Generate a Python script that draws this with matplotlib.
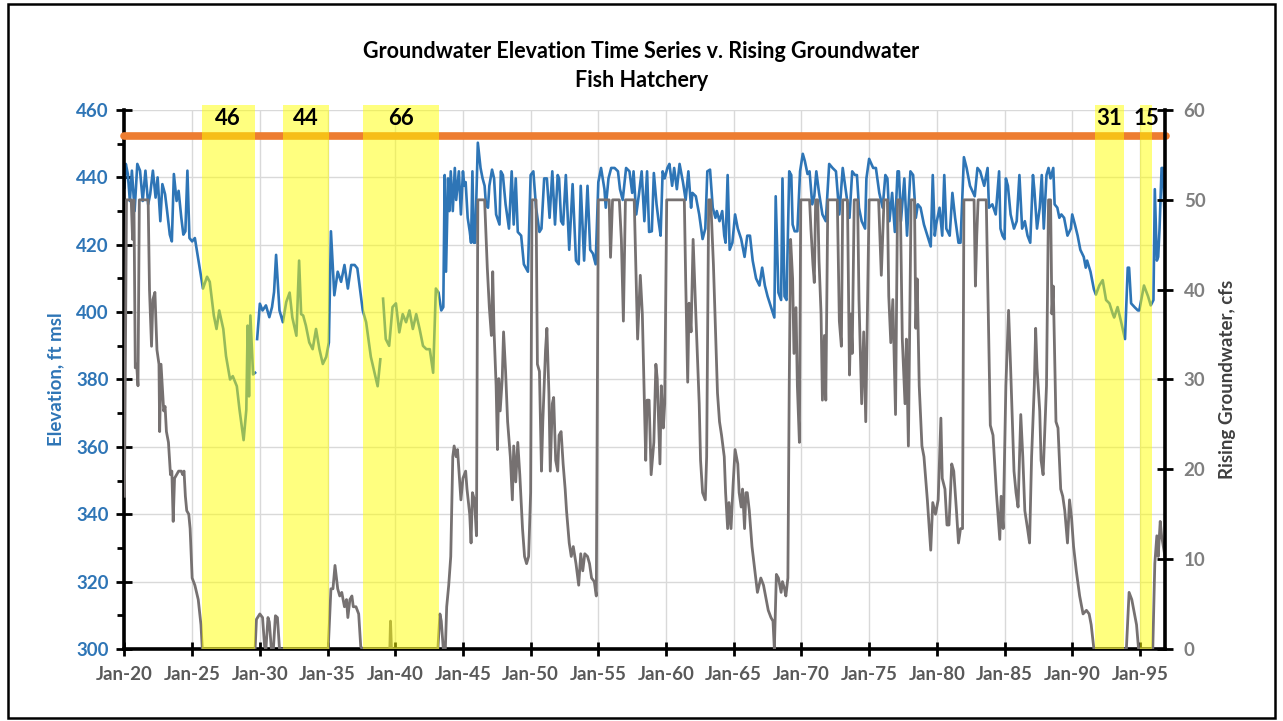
import numpy as np
import matplotlib
matplotlib.use('Agg')
import matplotlib.pyplot as plt
from matplotlib.patches import Rectangle
from matplotlib.ticker import MultipleLocator, FixedLocator

plt.rcParams['font.family'] = ['Lato', 'DejaVu Sans']

# ─── DATA (decimal years) ───────────────────────────────────────────────
NAN = float('nan')

# groundwater elevation, ft msl (NaN = gap in record)
elev_points = [
    (1920.0, 437), (1920.1, 444), (1920.25, 441), (1920.4, 433), (1920.55, 442),
    (1920.75, 430), (1920.95, 444), (1921.15, 442), (1921.35, 433), (1921.55, 442),
    (1921.75, 432), (1921.9, 435), (1922.1, 442), (1922.3, 434), (1922.45, 440),
    (1922.65, 427), (1922.8, 438), (1923.0, 435), (1923.15, 430), (1923.35, 423),
    (1923.5, 421), (1923.65, 441), (1923.85, 433), (1924.0, 436), (1924.2, 428),
    (1924.35, 423), (1924.5, 424), (1924.65, 442), (1924.8, 422), (1925.0, 421),
    (1925.2, 422), (1925.4, 417), (1925.6, 412), (1925.8, 407), (1926.1, 410.5),
    (1926.3, 409), (1926.6, 399), (1926.8, 395), (1927.0, 400.5), (1927.3, 395),
    (1927.5, 387), (1927.8, 380), (1928.0, 381), (1928.3, 378), (1928.5, 371),
    (1928.8, 362), (1929.0, 371), (1929.1, 396), (1929.2, 375), (1929.3, 399),
    (1929.5, 381.5), (1929.65, 382), (1929.72, NAN),
    (1929.8, 392), (1930.0, 402.5), (1930.2, 400.5), (1930.45, 402), (1930.7, 398.5),
    (1930.9, 401.5), (1931.05, 406), (1931.2, 417), (1931.45, 400.5), (1931.7, 397),
    (1931.95, 403), (1932.2, 405.8), (1932.4, 398.4), (1932.7, 393), (1932.9, 415.3),
    (1933.05, 399.4), (1933.2, 399), (1933.4, 396), (1933.65, 391), (1933.9, 389),
    (1934.15, 395), (1934.4, 389), (1934.65, 384.6), (1934.9, 386.7), (1935.1, 391),
    (1935.25, 424), (1935.5, 405), (1935.75, 412), (1936.0, 409), (1936.25, 414),
    (1936.5, 407), (1936.75, 414), (1937.0, 414), (1937.2, 413), (1937.6, 400.5),
    (1937.85, 397), (1938.2, 386.7), (1938.7, 378), (1938.9, 386), (1939.0, NAN),
    (1939.1, 404), (1939.3, 392), (1939.55, 390), (1939.8, 401.5), (1940.05, 402.6),
    (1940.3, 394), (1940.55, 399.4), (1940.8, 397), (1941.05, 400.5), (1941.3, 395),
    (1941.55, 399.4), (1941.8, 395), (1942.05, 390), (1942.3, 389), (1942.55, 389),
    (1942.8, 382), (1943.0, 407), (1943.2, 405.8), (1943.4, 400.5), (1943.55, 401.5),
    (1943.65, 440.7), (1943.75, 412), (1943.9, 439.7), (1944.0, 430), (1944.1, 441.8),
    (1944.25, 430), (1944.4, 442.8), (1944.5, 433.3), (1944.7, 441.8), (1944.85, 429),
    (1945.0, 441.8), (1945.1, 437.5), (1945.2, 438.6), (1945.35, 428), (1945.5, 424),
    (1945.6, 420.6), (1945.7, 441.8), (1945.8, 420.6), (1945.9, 420.6), (1946.1, 450.3),
    (1946.3, 442.8), (1946.45, 439.7), (1946.6, 437.5), (1946.7, 432), (1946.85, 431),
    (1946.95, 437.5), (1947.15, 442.3), (1947.3, 439.7), (1947.45, 429), (1947.7, 426),
    (1947.8, 441.8), (1947.95, 440.7), (1948.15, 432), (1948.4, 424.8), (1948.6, 441.8),
    (1948.75, 426), (1948.9, 439.7), (1949.05, 423.8), (1949.3, 422.7), (1949.5, 414.2),
    (1949.8, 412), (1950.0, 440.7), (1950.2, 441.8), (1950.4, 431), (1950.65, 423.8),
    (1950.8, 424.8), (1951.0, 439.7), (1951.2, 439.7), (1951.4, 428), (1951.6, 441.8),
    (1951.8, 426), (1952.0, 440.7), (1952.1, 439.7), (1952.25, 427), (1952.4, 426),
    (1952.6, 440.7), (1952.85, 418.5), (1953.1, 438), (1953.35, 415.3), (1953.55, 414.2),
    (1953.7, 437.5), (1953.95, 415.3), (1954.2, 437.5), (1954.4, 418.5), (1954.6, 417.4),
    (1954.8, 414.2), (1955.0, 438.6), (1955.2, 442.8), (1955.45, 436.5), (1955.55, 431),
    (1955.75, 439.7), (1955.95, 442.8), (1956.2, 442.8), (1956.45, 441.8), (1956.6, 436.5),
    (1956.8, 433.3), (1957.05, 442.8), (1957.3, 441.8), (1957.5, 435.4), (1957.6, 441.8),
    (1957.8, 429), (1958.0, 435), (1958.2, 441.8), (1958.4, 427), (1958.6, 441.8),
    (1958.75, 423.8), (1958.95, 424), (1959.1, 441.3), (1959.3, 432), (1959.45, 427),
    (1959.6, 422.7), (1959.75, 441.8), (1959.9, 439.7), (1960.1, 442.8), (1960.25, 444),
    (1960.45, 437.5), (1960.6, 442.8), (1960.8, 436.5), (1961.0, 444), (1961.25, 438.6),
    (1961.45, 433.3), (1961.65, 441.8), (1961.85, 431), (1961.95, 435.4), (1962.2, 434.4),
    (1962.45, 429), (1962.7, 421.7), (1962.9, 424.8), (1963.05, 441.8), (1963.25, 442.3),
    (1963.45, 431), (1963.65, 428), (1963.75, 430), (1963.95, 427), (1964.15, 430),
    (1964.3, 422.7), (1964.4, 420.6), (1964.55, 440.7), (1964.7, 418.5), (1964.9, 420.6),
    (1965.1, 429), (1965.3, 424.8), (1965.55, 421.7), (1965.8, 416.4), (1966.0, 422.7),
    (1966.2, 422.7), (1966.4, 415.3), (1966.65, 410), (1966.9, 407.9), (1967.1, 413.2),
    (1967.3, 407.9), (1967.5, 404.7), (1967.75, 401.5), (1968.0, 398.4), (1968.1, 434.4),
    (1968.3, 405.8), (1968.5, 403.6), (1968.6, 439.7), (1968.75, 404.7), (1968.9, 403.6),
    (1969.1, 441.8), (1969.25, 440.7), (1969.35, 426), (1969.5, 424), (1969.7, 424),
    (1969.9, 441.8), (1970.1, 447), (1970.25, 444.9), (1970.45, 441), (1970.6, 441.8),
    (1970.8, 432), (1970.95, 434.4), (1971.1, 441.8), (1971.3, 435.4), (1971.55, 429),
    (1971.8, 427), (1972.05, 444), (1972.3, 442.8), (1972.55, 441.8), (1972.8, 429),
    (1973.05, 442.8), (1973.3, 435.4), (1973.55, 428), (1973.75, 441.8), (1973.95, 440.7),
    (1974.1, 440.7), (1974.25, 431), (1974.45, 427), (1974.7, 424.8), (1974.8, 439.7),
    (1975.0, 445.5), (1975.3, 442.8), (1975.5, 442.8), (1975.75, 435.4), (1976.0, 431),
    (1976.2, 440.7), (1976.35, 439.7), (1976.5, 427), (1976.7, 435.4), (1976.9, 423.8),
    (1977.1, 441.8), (1977.2, 441.8), (1977.35, 427), (1977.6, 439.7), (1977.8, 422.7),
    (1978.05, 441.8), (1978.25, 440.7), (1978.45, 428), (1978.6, 432), (1978.8, 431),
    (1979.05, 426), (1979.3, 422.7), (1979.55, 419.5), (1979.7, 440.7), (1979.85, 422.7),
    (1979.95, 426), (1980.2, 431), (1980.4, 422.7), (1980.55, 440.7), (1980.7, 424.8),
    (1980.95, 422.7), (1981.15, 435.4), (1981.35, 428), (1981.6, 420.6), (1981.75, 420.6),
    (1982.0, 446), (1982.2, 442.8), (1982.45, 437.5), (1982.8, 434.4), (1983.0, 442.8),
    (1983.2, 441.8), (1983.5, 437.5), (1983.75, 442.8), (1983.85, 431), (1984.1, 432),
    (1984.35, 429), (1984.6, 441.8), (1984.7, 424.8), (1984.85, 422.7), (1985.0, 421.7),
    (1985.1, 439.7), (1985.25, 437.5), (1985.45, 429), (1985.7, 424.8), (1985.9, 427),
    (1986.1, 440.7), (1986.3, 424.8), (1986.5, 427), (1986.7, 422.7), (1986.9, 420.6),
    (1987.1, 440.7), (1987.2, 436.5), (1987.4, 424.8), (1987.6, 431), (1987.75, 440.7),
    (1987.9, 424.8), (1988.1, 440.7), (1988.25, 442.8), (1988.4, 439.7), (1988.6, 442.8),
    (1988.7, 432), (1988.9, 431), (1989.05, 428), (1989.2, 429), (1989.4, 428),
    (1989.65, 422.7), (1989.9, 424.8), (1990.0, 429), (1990.2, 426), (1990.4, 422.7),
    (1990.6, 418.5), (1990.85, 416.4), (1991.0, 413.2), (1991.1, 415.3), (1991.35, 412),
    (1991.6, 406.8), (1991.75, 405.2), (1992.0, 407.9), (1992.25, 409.5), (1992.5, 403.6),
    (1992.75, 402.6), (1993.0, 399.4), (1993.1, 398.4), (1993.35, 401.5), (1993.6, 397.3),
    (1993.9, 392), (1994.1, 413.2), (1994.2, 413.2), (1994.35, 402.6), (1994.6, 401.5),
    (1994.85, 400.5), (1994.95, 400.5), (1995.1, 403.6), (1995.3, 407.9), (1995.6, 404.7),
    (1995.8, 402), (1996.0, 403.6), (1996.1, 436.5), (1996.25, 415.3), (1996.35, 416.4),
    (1996.45, 424.8), (1996.6, 442.8), (1996.7, 442.8), (1996.85, 424.8),
]

# rising groundwater, cfs
flow_points = [
    (1920.0, 17), (1920.15, 50), (1920.5, 50), (1920.6, 45.6), (1920.7, 50),
    (1920.8, 31.3), (1920.9, 31.7), (1921.0, 29.3), (1921.1, 50), (1921.75, 50),
    (1921.85, 40), (1922.0, 33.7), (1922.1, 38.9), (1922.25, 39.7), (1922.4, 33.3),
    (1922.55, 31.7), (1922.6, 24.2), (1922.7, 31.7), (1922.9, 26.5), (1923.0, 27),
    (1923.1, 24.2), (1923.25, 23), (1923.4, 19.4), (1923.5, 19.8), (1923.6, 14.2),
    (1923.7, 19), (1923.85, 19.4), (1924.0, 19.8), (1924.2, 19.8), (1924.3, 19.4),
    (1924.4, 19.8), (1924.5, 17), (1924.6, 15.4), (1924.75, 15), (1924.85, 13.4),
    (1925.0, 7.9), (1925.2, 7.1), (1925.45, 5.5), (1925.65, 2.7), (1925.75, 0),
    (1929.65, 0), (1929.75, 3.3), (1930.0, 3.9), (1930.2, 3.5), (1930.35, 0.3),
    (1930.45, 0), (1930.6, 3.5), (1930.7, 3), (1930.85, 0), (1931.0, 0),
    (1931.15, 3.7), (1931.3, 3.5), (1931.45, 0), (1935.05, 0), (1935.25, 6.7),
    (1935.4, 6.7), (1935.55, 9.3), (1935.75, 6.7), (1935.9, 5.9), (1936.05, 6.3),
    (1936.25, 4.7), (1936.4, 5.5), (1936.5, 3.5), (1936.65, 5.5), (1936.8, 5.9),
    (1936.9, 4.7), (1937.1, 4.7), (1937.3, 3.9), (1937.45, 0.3), (1937.55, 0),
    (1939.6, 0), (1939.65, 3.1), (1939.72, 0), (1943.15, 0), (1943.3, 3.9),
    (1943.4, 3.1), (1943.55, 0), (1943.7, 0), (1943.8, 4.7), (1943.95, 7.1),
    (1944.1, 10.3), (1944.25, 21.4), (1944.35, 22.6), (1944.5, 21.4), (1944.6, 22.2),
    (1944.85, 16.6), (1945.0, 19), (1945.2, 19.8), (1945.3, 17.8), (1945.5, 15),
    (1945.6, 11.8), (1945.7, 17.4), (1945.85, 16.6), (1946.0, 12.6), (1946.1, 50),
    (1946.6, 50), (1946.8, 42.4), (1946.95, 38), (1947.1, 34.9), (1947.2, 42),
    (1947.3, 35.3), (1947.45, 29.3), (1947.55, 22.2), (1947.65, 30.1), (1947.75, 26.5),
    (1947.9, 30), (1948.0, 35.3), (1948.15, 30.9), (1948.3, 25.3), (1948.5, 21.4),
    (1948.65, 16.6), (1948.75, 22.6), (1948.9, 18.6), (1949.05, 23), (1949.2, 19.4),
    (1949.4, 13.4), (1949.55, 10.3), (1949.7, 9.5), (1949.85, 10.3), (1950.0, 17.4),
    (1950.1, 50), (1950.4, 50), (1950.5, 31.7), (1950.65, 30.9), (1950.8, 19.8),
    (1950.9, 25.3), (1951.1, 33.3), (1951.2, 35.7), (1951.35, 28.5), (1951.45, 19.8),
    (1951.6, 27.3), (1951.7, 28), (1951.85, 21), (1952.0, 19.8), (1952.1, 23.8),
    (1952.25, 24.2), (1952.4, 20.6), (1952.55, 17.8), (1952.65, 15.4), (1952.85, 11.8),
    (1953.0, 10.3), (1953.15, 11.4), (1953.35, 9.5), (1953.55, 7.1), (1953.7, 10.6),
    (1953.85, 8.7), (1954.0, 10.6), (1954.2, 10.3), (1954.35, 9.5), (1954.5, 7.9),
    (1954.7, 7.5), (1954.85, 5.9), (1955.0, 50), (1955.8, 50), (1955.9, 43.6),
    (1956.05, 50), (1956.55, 50), (1956.7, 45.6), (1956.85, 36.5), (1957.0, 50),
    (1957.65, 50), (1957.9, 34.5), (1958.1, 41.6), (1958.25, 37.3), (1958.5, 21),
    (1958.6, 27.7), (1958.75, 27.7), (1958.9, 19.4), (1959.1, 23), (1959.25, 31.7),
    (1959.35, 30.1), (1959.55, 20.6), (1959.65, 29.3), (1959.8, 24.6), (1959.9, 27.3),
    (1960.05, 50), (1961.35, 50), (1961.45, 41.2), (1961.6, 29.7), (1961.7, 38.5),
    (1961.85, 35.3), (1962.0, 45.6), (1962.2, 37.3), (1962.45, 27.3), (1962.55, 21),
    (1962.7, 17.4), (1962.9, 16.6), (1963.0, 21.4), (1963.15, 50), (1963.3, 50),
    (1963.5, 42.8), (1963.7, 33.3), (1963.8, 28.5), (1963.95, 25.3), (1964.1, 23.8),
    (1964.3, 21.4), (1964.4, 17.4), (1964.55, 13.4), (1964.65, 16.3), (1964.8, 13.4),
    (1964.95, 18.2), (1965.1, 22.2), (1965.3, 20.6), (1965.4, 17.4), (1965.55, 15.8),
    (1965.65, 17.8), (1965.8, 13.4), (1965.9, 17.4), (1966.0, 17.4), (1966.15, 15.4),
    (1966.35, 11.4), (1966.5, 9.5), (1966.75, 6.3), (1967.0, 7.9), (1967.2, 7.1),
    (1967.4, 5.5), (1967.55, 4.3), (1967.75, 3.5), (1967.9, 3.1), (1968.0, 0),
    (1968.15, 8.3), (1968.3, 7.9), (1968.5, 6.3), (1968.6, 7.5), (1968.75, 6.7),
    (1968.85, 5.9), (1969.0, 7.9), (1969.1, 29.3), (1969.2, 45.6), (1969.35, 41.2),
    (1969.45, 32.9), (1969.6, 38), (1969.7, 29.3), (1969.85, 23), (1969.95, 50),
    (1970.6, 50), (1970.7, 46.8), (1970.85, 42.8), (1970.95, 40.8), (1971.05, 50),
    (1971.2, 50), (1971.3, 43.2), (1971.45, 37.3), (1971.55, 27.7), (1971.7, 34.9),
    (1971.8, 27.7), (1971.95, 50), (1972.65, 50), (1972.8, 36.5), (1972.95, 33.7),
    (1973.05, 50), (1973.4, 50), (1973.55, 30.5), (1973.65, 37.3), (1973.75, 32.9),
    (1973.9, 50), (1974.15, 50), (1974.25, 38.9), (1974.45, 27.3), (1974.6, 35.3),
    (1974.75, 25.3), (1975.0, 50), (1975.7, 50), (1975.9, 41.6), (1976.1, 50),
    (1976.35, 50), (1976.45, 39.3), (1976.6, 34.1), (1976.75, 38.9), (1976.95, 26.1),
    (1977.1, 50), (1977.3, 50), (1977.45, 34.5), (1977.65, 27.3), (1977.75, 34.5),
    (1977.9, 22.6), (1978.1, 50), (1978.35, 50), (1978.45, 35.7), (1978.55, 41.2),
    (1978.7, 29.3), (1978.9, 22.6), (1979.05, 21.4), (1979.3, 16.6), (1979.55, 11),
    (1979.7, 16.3), (1979.9, 15), (1980.1, 16.6), (1980.3, 25.7), (1980.4, 19),
    (1980.6, 17.8), (1980.75, 13.8), (1980.9, 13.8), (1981.1, 20.6), (1981.25, 19.8),
    (1981.45, 15.4), (1981.6, 11.8), (1981.75, 13.4), (1981.9, 13.4), (1982.0, 50),
    (1982.75, 50), (1982.85, 40.4), (1982.95, 46), (1983.05, 50), (1983.65, 50),
    (1983.95, 24.9), (1984.15, 23.8), (1984.4, 17.4), (1984.65, 12.2), (1984.75, 17),
    (1984.9, 13.4), (1985.1, 29.3), (1985.3, 37.7), (1985.45, 31.3), (1985.6, 24.2),
    (1985.7, 19.8), (1985.85, 17.4), (1986.0, 15.8), (1986.2, 26.1), (1986.35, 21.4),
    (1986.5, 15.4), (1986.7, 13.4), (1986.85, 11.8), (1987.0, 21.4), (1987.2, 29.3),
    (1987.3, 35.7), (1987.4, 31.3), (1987.6, 26.5), (1987.7, 21), (1987.85, 19.4),
    (1987.95, 23.4), (1988.1, 29.3), (1988.25, 50), (1988.4, 50), (1988.5, 37.3),
    (1988.6, 40.4), (1988.8, 25.3), (1988.95, 24.6), (1989.15, 17.8), (1989.3, 17),
    (1989.45, 15.4), (1989.65, 11.8), (1989.8, 16.6), (1989.95, 14.6), (1990.1, 11.4),
    (1990.3, 8.7), (1990.55, 5.9), (1990.8, 3.9), (1991.05, 4.3), (1991.25, 3.9),
    (1991.4, 2.7), (1991.6, 0), (1994.0, 0), (1994.2, 6.3), (1994.4, 5.5),
    (1994.6, 3.9), (1994.75, 2.7), (1994.9, 0), (1995.95, 0), (1996.1, 9.5),
    (1996.25, 12.6), (1996.35, 10.3), (1996.5, 14.2), (1996.6, 12.6), (1996.85, 10.3),
]

threshold_cfs = 57.1          # orange reference line

# shaded zero-flow periods and their month counts
span_start = [1925.70, 1931.73, 1937.59, 1991.67, 1995.00]
span_end = [1929.64, 1935.13, 1943.23, 1993.82, 1995.91]
span_label = ['46', '44', '66', '31', '15']

x_ticks = list(range(1920, 1996, 5))
x_ticklabels = ['Jan-%02d' % (y % 100) for y in x_ticks]

title_lines = ['Groundwater Elevation Time Series v. Rising Groundwater', 'Fish Hatchery']

elev_year = np.array([p[0] for p in elev_points])
elev_ft = np.array([p[1] for p in elev_points])
flow_year = np.array([p[0] for p in flow_points])
flow_cfs = np.array([p[1] for p in flow_points])

# ─── PLOT ───────────────────────────────────────────────────────────────
BLUE = '#2E75B6'
GRAY = '#767171'
ORANGE = '#ED7D31'
TXT_GRAY = '#595959'

fig = plt.figure(figsize=(12.83, 7.21), dpi=100)
ax = fig.add_axes([0.097, 0.0999, 0.811, 0.7475])
ax2 = ax.twinx()

ax.plot(elev_year, elev_ft, color=BLUE, lw=1.9, zorder=2)
ax2.plot(flow_year, flow_cfs, color=GRAY, lw=2.0, zorder=2)
ax2.plot([1920.0, 1996.95], [threshold_cfs, threshold_cfs], color=ORANGE, lw=5.5,
         solid_capstyle='round', zorder=2.5, clip_on=False)

for s, e, lab in zip(span_start, span_end, span_label):
    ax2.axvspan(s, e, ymin=0, ymax=1.009, color='#FFFF00', alpha=0.5, lw=0,
                zorder=3, clip_on=False)
    ax2.text((s + e) / 2, 0.985, lab, transform=ax2.get_xaxis_transform(),
             ha='center', va='center', fontsize=16, fontweight='bold',
             color='black', zorder=6)

ax.set_xlim(1920, 1996.85)
ax.set_ylim(300, 460)
ax2.set_ylim(0, 60)

ax.xaxis.set_major_locator(FixedLocator(x_ticks))
ax.set_xticklabels(x_ticklabels)
ax.yaxis.set_major_locator(MultipleLocator(20))
ax.yaxis.set_minor_locator(MultipleLocator(10))
ax2.yaxis.set_major_locator(MultipleLocator(10))

ax.grid(True, which='major', color='#D9D9D9', lw=1)
ax.set_axisbelow(True)

for sp in ['top', 'right']:
    ax.spines[sp].set_visible(False)
for sp in ['top', 'left', 'bottom']:
    ax2.spines[sp].set_visible(False)
for sp in [ax.spines['left'], ax.spines['bottom'], ax2.spines['right']]:
    sp.set_linewidth(2.6)
    sp.set_color('black')

ax.tick_params(axis='x', which='major', direction='inout', length=10, width=2,
               labelsize=13.5, labelcolor=TXT_GRAY, pad=7)
ax.tick_params(axis='y', which='major', direction='inout', length=11, width=2,
               labelsize=13.5, labelcolor=BLUE, pad=6)
ax.tick_params(axis='y', which='minor', direction='out', length=5, width=2)
ax2.tick_params(axis='y', which='major', direction='inout', length=11, width=2,
                labelsize=13.5, labelcolor='#7F7F7F', pad=8)
for lab in ax.get_xticklabels() + ax.get_yticklabels() + ax2.get_yticklabels():
    lab.set_fontweight('bold')

ax.set_ylabel('Elevation, ft msl', color=BLUE, fontsize=13.5, fontweight='bold',
              labelpad=8)
ax2.set_ylabel('Rising Groundwater, cfs', color='#404040', fontsize=13.5,
               fontweight='bold', labelpad=10)

fig.text(0.5, 0.929, title_lines[0], ha='center', va='center', fontsize=15.5,
         fontweight='bold')
fig.text(0.5, 0.888, title_lines[1], ha='center', va='center', fontsize=15.5,
         fontweight='bold')

fig.add_artist(Rectangle((0.0062, 0.0042), 0.9876, 0.9903, transform=fig.transFigure,
                         fill=False, lw=1.8, ec='black'))

fig.savefig('out.png', dpi=100)
